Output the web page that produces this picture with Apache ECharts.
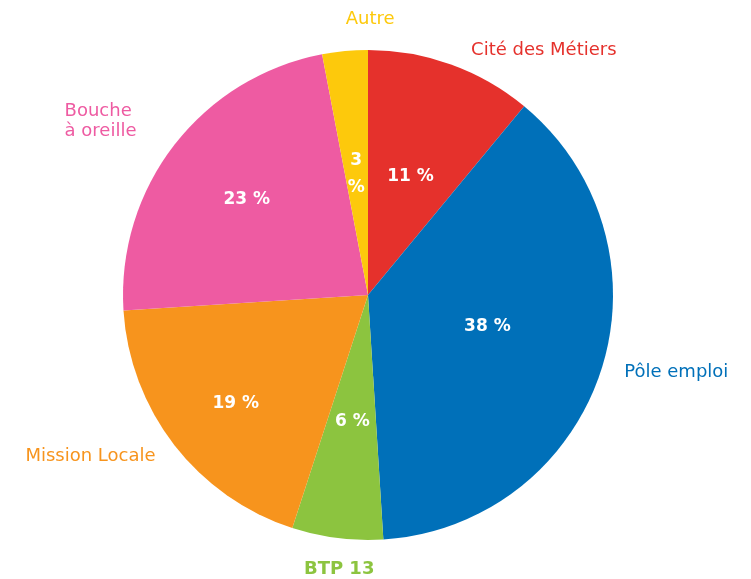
<!DOCTYPE html>
<html>
<head>
<meta charset="utf-8">
<script src="https://cdn.jsdelivr.net/npm/echarts@6/dist/echarts.min.js"></script>
<style>
  html, body { margin: 0; padding: 0; background: #fff; }
  #chart { width: 751px; height: 579px; }
</style>
</head>
<body>
<div id="chart"></div>
<script>
// ordre horaire depuis midi
const categories = ['Cité des Métiers', 'Pôle emploi', 'BTP 13', 'Mission Locale', 'Bouche\nà oreille', 'Autre']
const values = [11, 38, 6, 19, 23, 3]
const colors = ['#e5312c', '#0070b9', '#8cc43f', '#f7941d', '#ee5ba2', '#fdc90c']

const FONT = '"DejaVu Sans", "Noto Sans", sans-serif'

const data = categories.map((name, i) => ({
  name,
  value: values[i],
  itemStyle: { color: colors[i] },
}))

// décalages des étiquettes (positionnement uniquement)
const innerShift = { 1: [0, -7], 2: [0, 2], 3: [-33, 32], 4: [-22, -19], 5: [0, 4] }
const outerShift = { 1: [-6, -3], 2: [54, 16], 3: [8, 2], 4: [-83, -14], 5: [66, -17] }

const chart = echarts.init(document.getElementById('chart'))

chart.setOption({
  animation: false,
  series: [
    {
      // valeurs en blanc dans les parts
      type: 'pie',
      center: [368, 295],
      radius: 245,
      startAngle: 90,
      clockwise: true,
      avoidLabelOverlap: false,
      data: data,
      label: {
        position: 'inside',
        color: '#fff',
        fontFamily: FONT,
        fontSize: 17,
        fontWeight: 'bold',
        lineHeight: 27,
        formatter: (p) => (p.value <= 3 ? `${p.value}\n%` : `${p.value} %`),
      },
      labelLine: { show: false },
      labelLayout: (params) => {
        const s = innerShift[params.dataIndex]
        return s ? { dx: s[0], dy: s[1] } : {}
      },
    },
    {
      // noms des catégories à l'extérieur
      type: 'pie',
      center: [368, 295],
      radius: 245,
      startAngle: 90,
      clockwise: true,
      silent: true,
      avoidLabelOverlap: false,
      data: data.map((d, i) => ({
        name: d.name,
        value: d.value,
        itemStyle: { color: 'transparent' },
        label: { color: colors[i], fontWeight: i === 2 ? 'bold' : 'normal' },
      })),
      label: {
        position: 'outside',
        alignTo: 'none',
        fontFamily: FONT,
        fontSize: 18,
        lineHeight: 20,
        formatter: '{b}',
      },
      labelLine: { show: false, length: 15, length2: 10 },
      labelLayout: (params) => {
        const s = outerShift[params.dataIndex]
        const out = s ? { dx: s[0], dy: s[1] } : {}
        if (params.dataIndex === 4) out.align = 'left'
        return out
      },
    },
  ],
})
</script>
</body>
</html>
